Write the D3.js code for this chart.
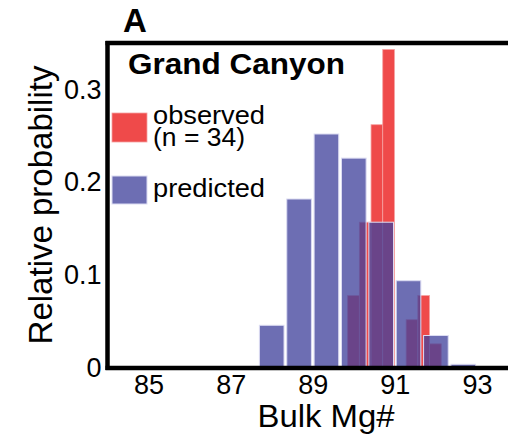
<!DOCTYPE html>
<html>
<head>
<meta charset="utf-8">
<script src="https://cdn.jsdelivr.net/npm/d3@7"></script>
<style>
  html, body { margin: 0; padding: 0; background: #ffffff; }
  svg { display: block; }
  text { font-family: "Liberation Sans", Arial, Helvetica, sans-serif; fill: #000; }
</style>
</head>
<body>
<svg id="chart" width="508" height="438"></svg>
<script>
// ---- data ----
const xTicks = [85, 87, 89, 91, 93];
const yTicks = [0, 0.1, 0.2, 0.3];
const yTickLabels = ["0", "0.1", "0.2", "0.3"];

// predicted (blue) histogram: bin centres and relative probabilities
const predCenters = [88, 88.667, 89.333, 90, 90.667, 91.333, 92, 92.667];
const predValues  = [0.046, 0.182, 0.252, 0.226, 0.157, 0.094, 0.035, 0.004];
const predWidth = 0.6;

// observed (red) histogram: bin starts and relative probabilities
const obsStarts = [89.85, 90.135, 90.42, 90.705, 90.99, 91.275, 91.56, 91.845];
const obsValues = [0.078, 0.157, 0.262, 0.343, 0, 0.052, 0.078, 0.026];
const obsWidth = 0.285;

const legendLabels = ["observed", "(n = 34)", "predicted"];

// ---- layout ----
const svg = d3.select("#chart");
const x = d3.scaleLinear().domain([84, 94]).range([107.5, 518]);
const y = d3.scaleLinear().domain([0, 0.35]).range([368, 43]);

const red = "#ef4a4a";
const blue = "#41429c";

// observed bars (behind)
svg.append("g").selectAll("rect").data(obsStarts).join("rect")
  .attr("x", d => x(d))
  .attr("width", x(obsStarts[0] + obsWidth) - x(obsStarts[0]))
  .attr("y", (d, i) => y(obsValues[i]))
  .attr("height", (d, i) => y(0) - y(obsValues[i]))
  .attr("fill", red)
  .attr("stroke", "#f6a0a0")
  .attr("stroke-width", 0.8);

// predicted bars (front, semi-transparent)
svg.append("g").selectAll("rect").data(predCenters).join("rect")
  .attr("x", d => x(d - predWidth / 2))
  .attr("width", x(predCenters[0] + predWidth / 2) - x(predCenters[0] - predWidth / 2))
  .attr("y", (d, i) => y(predValues[i]))
  .attr("height", (d, i) => y(0) - y(predValues[i]))
  .attr("fill", blue)
  .attr("fill-opacity", 0.77)
  .attr("stroke", "#dcdcf2")
  .attr("stroke-width", 1);

// top border
svg.append("line")
  .attr("x1", x(84) - 2).attr("x2", x(94))
  .attr("y1", y(0.35)).attr("y2", y(0.35))
  .attr("stroke", "#000").attr("stroke-width", 4.5);

// x axis
const gx = svg.append("g").attr("transform", `translate(0,${y(0)})`)
  .call(d3.axisBottom(x).tickValues(xTicks).tickSize(0).tickSizeOuter(0).tickPadding(7)
        .tickFormat(d3.format("d")));
gx.select(".domain").attr("stroke", "#000").attr("stroke-width", 4.5)
  .attr("d", `M${x(84) - 2},0H${x(94)}`);
gx.selectAll("text").attr("font-size", 27).style("font-family", "'Liberation Sans', Arial, sans-serif");

// y axis
const gy = svg.append("g").attr("transform", `translate(${x(84)},0)`)
  .call(d3.axisLeft(y).tickValues(yTicks).tickSize(0).tickSizeOuter(0).tickPadding(6)
        .tickFormat((d, i) => yTickLabels[i]));
gy.select(".domain").attr("stroke", "#000").attr("stroke-width", 4.5)
  .attr("d", `M0,${y(0) + 2}V${y(0.35) - 2}`);
gy.selectAll("text").attr("font-size", 27).style("font-family", "'Liberation Sans', Arial, sans-serif");

// axis titles
svg.append("text").attr("x", 326).attr("y", 427)
  .attr("text-anchor", "middle").attr("font-size", 32)
  .attr("textLength", 137).attr("lengthAdjust", "spacingAndGlyphs").text("Bulk Mg#");
svg.append("text")
  .attr("transform", "translate(52,205) rotate(-90)")
  .attr("text-anchor", "middle").attr("font-size", 33).text("Relative probability");

// panel letter and title
svg.append("text").attr("x", 123).attr("y", 32)
  .attr("font-size", 33).attr("font-weight", "bold").text("A");
svg.append("text").attr("x", 128).attr("y", 74)
  .attr("font-size", 29).attr("font-weight", "bold")
  .attr("textLength", 217).attr("lengthAdjust", "spacingAndGlyphs").text("Grand Canyon");

// legend
svg.append("rect").attr("x", 112).attr("y", 113).attr("width", 35).attr("height", 29)
  .attr("fill", red).attr("stroke", "#f6a0a0").attr("stroke-width", 0.8);
svg.append("rect").attr("x", 112).attr("y", 176).attr("width", 35).attr("height", 28)
  .attr("fill", blue).attr("fill-opacity", 0.77).attr("stroke", "#dcdcf2").attr("stroke-width", 1);
const legLen = [112, 92, 112];
const legY = [124, 146, 197];
legendLabels.forEach((t, i) => {
  svg.append("text").attr("x", 153).attr("y", legY[i]).attr("font-size", 25.5)
    .attr("textLength", legLen[i]).attr("lengthAdjust", "spacingAndGlyphs").text(t);
});
</script>
</body>
</html>
